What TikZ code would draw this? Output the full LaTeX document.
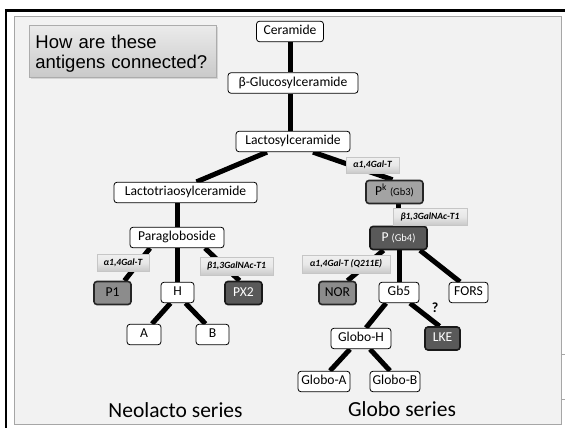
\documentclass[tikz,border=0pt]{standalone}
\usepackage{fontspec}
\setmainfont{Carlito}
\newfontfamily\qfont{Liberation Sans}
\usetikzlibrary{shadows}

\pgfdeclarelayer{panel}
\pgfdeclarelayer{links}
\pgfsetlayers{panel,links,main}

\definecolor{panelbg}{HTML}{F2F2F2}
\definecolor{panelrule}{HTML}{A6A6A6}
\definecolor{midfill}{HTML}{8C8C8C}
\definecolor{pkfill}{HTML}{A3A3A3}
\definecolor{darkfill}{HTML}{595959}

\newcommand\gbsize{\fontsize{10.5}{12}\selectfont}

\tikzset{
  antigen/.style={draw=black, line width=0.8pt, rounded corners=3pt, fill=white,
    inner sep=0pt, minimum height=20.5pt, text height=9.5pt, text depth=2.8pt,
    font=\fontsize{13.6}{15}\selectfont},
  graynode/.style={antigen, fill=midfill, draw=black!85, line width=1.6pt, minimum height=23pt},
  pknode/.style={graynode, fill=pkfill},
  darknode/.style={antigen, fill=darkfill, text=white, draw=black!90, line width=1.6pt, minimum height=23pt},
  enzyme/.style={inner sep=0pt, minimum height=17pt, text height=7pt, text depth=2pt,
    font=\bfseries\itshape\fontsize{9.5}{11}\selectfont,
    top color=gray!12, bottom color=gray!42, middle color=gray!18,
    draw=gray!45, line width=0.4pt,
    drop shadow={opacity=0.25, shadow xshift=1pt, shadow yshift=-1pt}},
  qbox/.style={draw=gray!65, line width=0.8pt, top color=gray!16, bottom color=gray!42,
    minimum width=187pt, minimum height=52pt, text width=175pt, inner xsep=6pt, inner ysep=0pt,
    align=left, text height=17.5pt, text depth=23pt,
    font=\qfont\fontsize{18.5}{20}\selectfont,
    drop shadow={opacity=0.25, shadow xshift=1.2pt, shadow yshift=-1.2pt}},
  link/.style={line width=5pt, black},
  series/.style={font=\fontsize{21.5}{24}\selectfont, anchor=base},
}

\begin{document}
\begin{tikzpicture}[x=1pt, y=-1pt]
\useasboundingbox (0,0) rectangle (565,428);

% frame and panel
\begin{pgfonlayer}{panel}
  \fill[white] (0,0) rectangle (565,428);
  \draw[panelrule, line width=0.9pt, fill=panelbg] (14,16) rectangle (561.5,424);
  \draw[panelrule, line width=0.9pt] (561.5,354) -- (565,354) (561.5,399) -- (565,399);
  \draw[black, line width=2.7pt] (4.9,10.7) -- (565,10.7);
  \draw[black, line width=2.5pt] (6.2,9.4) -- (6.2,428);
\end{pgfonlayer}

% question box
\node[qbox, anchor=north west] (question) at (29,25) {How are these\\antigens connected?};

% common trunk
\node[antigen, minimum width=67pt] (ceramide) at (290,31.5) {Ceramide};
\node[antigen, minimum width=130pt] (glucosyl) at (293,83) {β-Glucosylceramide};
\node[antigen, minimum width=114pt] (lactosyl) at (293,141.5) {Lactosylceramide};

% neolacto branch
\node[antigen, minimum width=143pt] (lactotri) at (185.5,192.5) {Lactotriaosylceramide};
\node[antigen, minimum width=94pt] (paraglob) at (177,237.5) {Paragloboside};
\node[graynode, minimum width=37pt] (p1) at (112.5,293) {P1};
\node[antigen, minimum width=33pt] (hant) at (177.5,292.5) {H};
\node[darknode, minimum width=37pt] (px2) at (243.5,293) {PX2};
\node[antigen, minimum width=34pt] (aant) at (144,334.5) {A};
\node[antigen, minimum width=33pt] (bant) at (212.5,334.5) {B};

% globo branch
\node[pknode, minimum width=57pt] (pk) at (394.5,192) {P\textsuperscript{k} {\gbsize (Gb3)}};
\node[darknode, minimum width=57pt] (pgb4) at (398.5,238) {P {\gbsize (Gb4)}};
\node[graynode, minimum width=37pt] (nor) at (337.5,293) {NOR};
\node[antigen, minimum width=40pt] (gb5) at (399,292.5) {Gb5};
\node[antigen, minimum width=39pt] (fors) at (468.5,292.5) {FORS};
\node[darknode, minimum width=35pt] (lke) at (442.5,338.5) {LKE};
\node[antigen, minimum width=60pt] (globoh) at (361,338.5) {Globo-H};
\node[antigen, minimum width=52pt] (globoa) at (324,381.5) {Globo-A};
\node[antigen, minimum width=50pt] (globob) at (395,381.5) {Globo-B};

% connections
\begin{pgfonlayer}{links}
  \draw[link] (ceramide.south) -- (ceramide.south |- glucosyl.north);
  \draw[link] ([xshift=-3pt]glucosyl.south) -- ([xshift=-3pt]lactosyl.north);
  \draw[link] ([xshift=-26pt]lactosyl.south) -- ([xshift=11pt]lactotri.north);
  \draw[link] ([xshift=20pt]lactosyl.south) -- ([xshift=-2pt]pk.north);
  \draw[link] (paraglob.north) -- (paraglob.north |- lactotri.south);
  \draw[link] ([xshift=-27pt]paraglob.south) -- ([xshift=12pt]p1.north);
  \draw[link] (hant.north) -- (hant.north |- paraglob.south);
  \draw[link] ([xshift=28pt]paraglob.south) -- ([xshift=-4pt]px2.north);
  \draw[link] ([xshift=-7pt]hant.south) -- ([xshift=8pt]aant.north);
  \draw[link] ([xshift=8pt]hant.south) -- ([xshift=-7pt]bant.north);
  \draw[link] ([xshift=4pt]pk.south) -- (pgb4.north);
  \draw[link] ([xshift=-15pt]pgb4.south) -- ([xshift=10pt]nor.north);
  \draw[link] (gb5.north) -- (gb5.north |- pgb4.south);
  \draw[link] ([xshift=21.5pt]pgb4.south) -- ([xshift=-8.5pt]fors.north);
  \draw[link] ([xshift=-13pt]gb5.south) -- ([xshift=5pt]globoh.north);
  \draw[link] ([xshift=11pt]gb5.south) -- ([xshift=-3pt]lke.north);
  \draw[link] ([xshift=-11pt]globoh.south) -- ([xshift=6pt]globoa.north);
  \draw[link] ([xshift=9pt]globoh.south) -- ([xshift=-5pt]globob.north);
\end{pgfonlayer}

% enzyme labels over the connections
\node[enzyme, minimum width=52pt] (galt1) at (123,262.5) {α1,4Gal-T};
\node[enzyme, minimum width=73pt, minimum height=18pt] (galnact1) at (236.5,266) {β1,3GalNAc-T1};
\node[enzyme, minimum width=53pt, minimum height=16pt] (galt2) at (372.5,165) {α1,4Gal-T};
\node[enzyme, minimum width=74pt] (galnact2) at (430,216.5) {β1,3GalNAc-T1};
\node[enzyme, minimum width=88pt, minimum height=18pt] (galtq) at (346,264) {α1,4Gal-T (Q211E)};

\node[font=\bfseries\fontsize{14}{16}\selectfont] (unknown) at (435,307.5) {?};

% series captions
\node[series] (neolacto) at (175.5,417) {Neolacto series};
\node[series] (globo) at (402,416) {Globo series};
\end{tikzpicture}
\end{document}
